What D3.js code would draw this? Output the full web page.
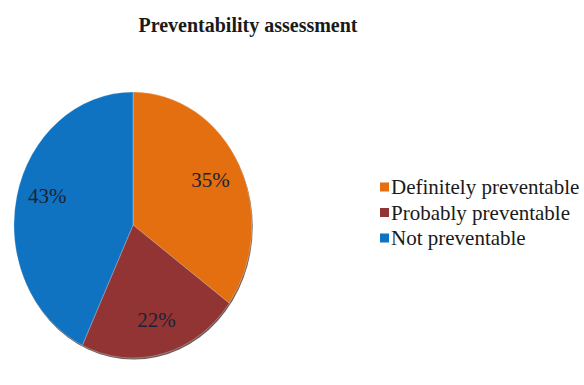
<!DOCTYPE html>
<html><head><meta charset="utf-8"><script src="https://cdn.jsdelivr.net/npm/d3@7"></script></head>
<body style="margin:0">
<svg id="chart" width="584" height="385"></svg>
<script>
// Preventability assessment data
const categories = ["Definitely preventable", "Probably preventable", "Not preventable"];
const shares = [35, 22, 43];
const sliceColors = ["#E36F10", "#923434", "#0F73C2"];
const title = "Preventability assessment";

const svg = d3.select("#chart");

// Title
svg.append("text")
  .attr("x", 248).attr("y", 32)
  .attr("font-size", 20)
  .style("font-family", '"Liberation Serif"')
  .attr("font-weight", "bold")
  .attr("text-anchor", "middle")
  .attr("fill", "#1a1a1a")
  .text(title);

// Pie, drawn on a unit circle and stretched into the plot ellipse
const cx = 133, cy = 225, rx = 119, ry = 133;
const pie = d3.pie().sort(null).value(d => d.value);
const data = categories.map((c, i) => ({ name: c, value: shares[i], color: sliceColors[i] }));
const arcs = pie(data);
const arc = d3.arc().innerRadius(0).outerRadius(1);

const g = svg.append("g").attr("transform", `translate(${cx},${cy}) scale(${rx},${ry})`);

// soft dark rim under the pie
g.append("ellipse")
  .attr("cx", 0.006).attr("cy", 0.012).attr("rx", 1).attr("ry", 1)
  .attr("fill", "#3b2320").attr("opacity", 0.75);

g.selectAll("path.slice")
  .data(arcs)
  .join("path")
  .attr("class", "slice")
  .attr("d", arc)
  .attr("fill", d => d.data.color)
  .attr("stroke", "#ffffff")
  .attr("stroke-opacity", 0.35)
  .attr("stroke-width", 0.8)
  .attr("vector-effect", "non-scaling-stroke");

// Percentage labels near each slice's centroid
const labelNudge = { "Definitely preventable": [0, -1], "Probably preventable": [2, 1], "Not preventable": [-1, -8] };
const labelArc = d3.arc().innerRadius(0.73).outerRadius(0.73);
svg.selectAll("text.pct")
  .data(arcs)
  .join("text")
  .attr("class", "pct")
  .attr("x", d => cx + labelArc.centroid(d)[0] * rx + labelNudge[d.data.name][0])
  .attr("y", d => cy + labelArc.centroid(d)[1] * ry + labelNudge[d.data.name][1] + 7)
  .attr("font-size", 21)
  .style("font-family", '"Liberation Serif"')
  .attr("text-anchor", "middle")
  .attr("fill", "#1c2233")
  .text(d => d.data.value + "%");

// Legend
const rowY = d3.scalePoint().domain(categories).range([187, 238]);
const rows = svg.append("g")
  .attr("transform", "translate(380,0)")
  .selectAll("g.row")
  .data(data)
  .join("g")
  .attr("class", "row")
  .attr("transform", d => `translate(0,${rowY(d.name)})`);
rows.append("rect")
  .attr("x", 0).attr("y", -4.5)
  .attr("width", 9).attr("height", 9)
  .attr("fill", d => d.color);
rows.append("text")
  .attr("x", 11).attr("y", 7)
  .attr("font-size", 21)
  .style("font-family", '"Liberation Serif"')
  .attr("fill", "#1a1a1a")
  .text(d => d.name);
</script></body></html>
